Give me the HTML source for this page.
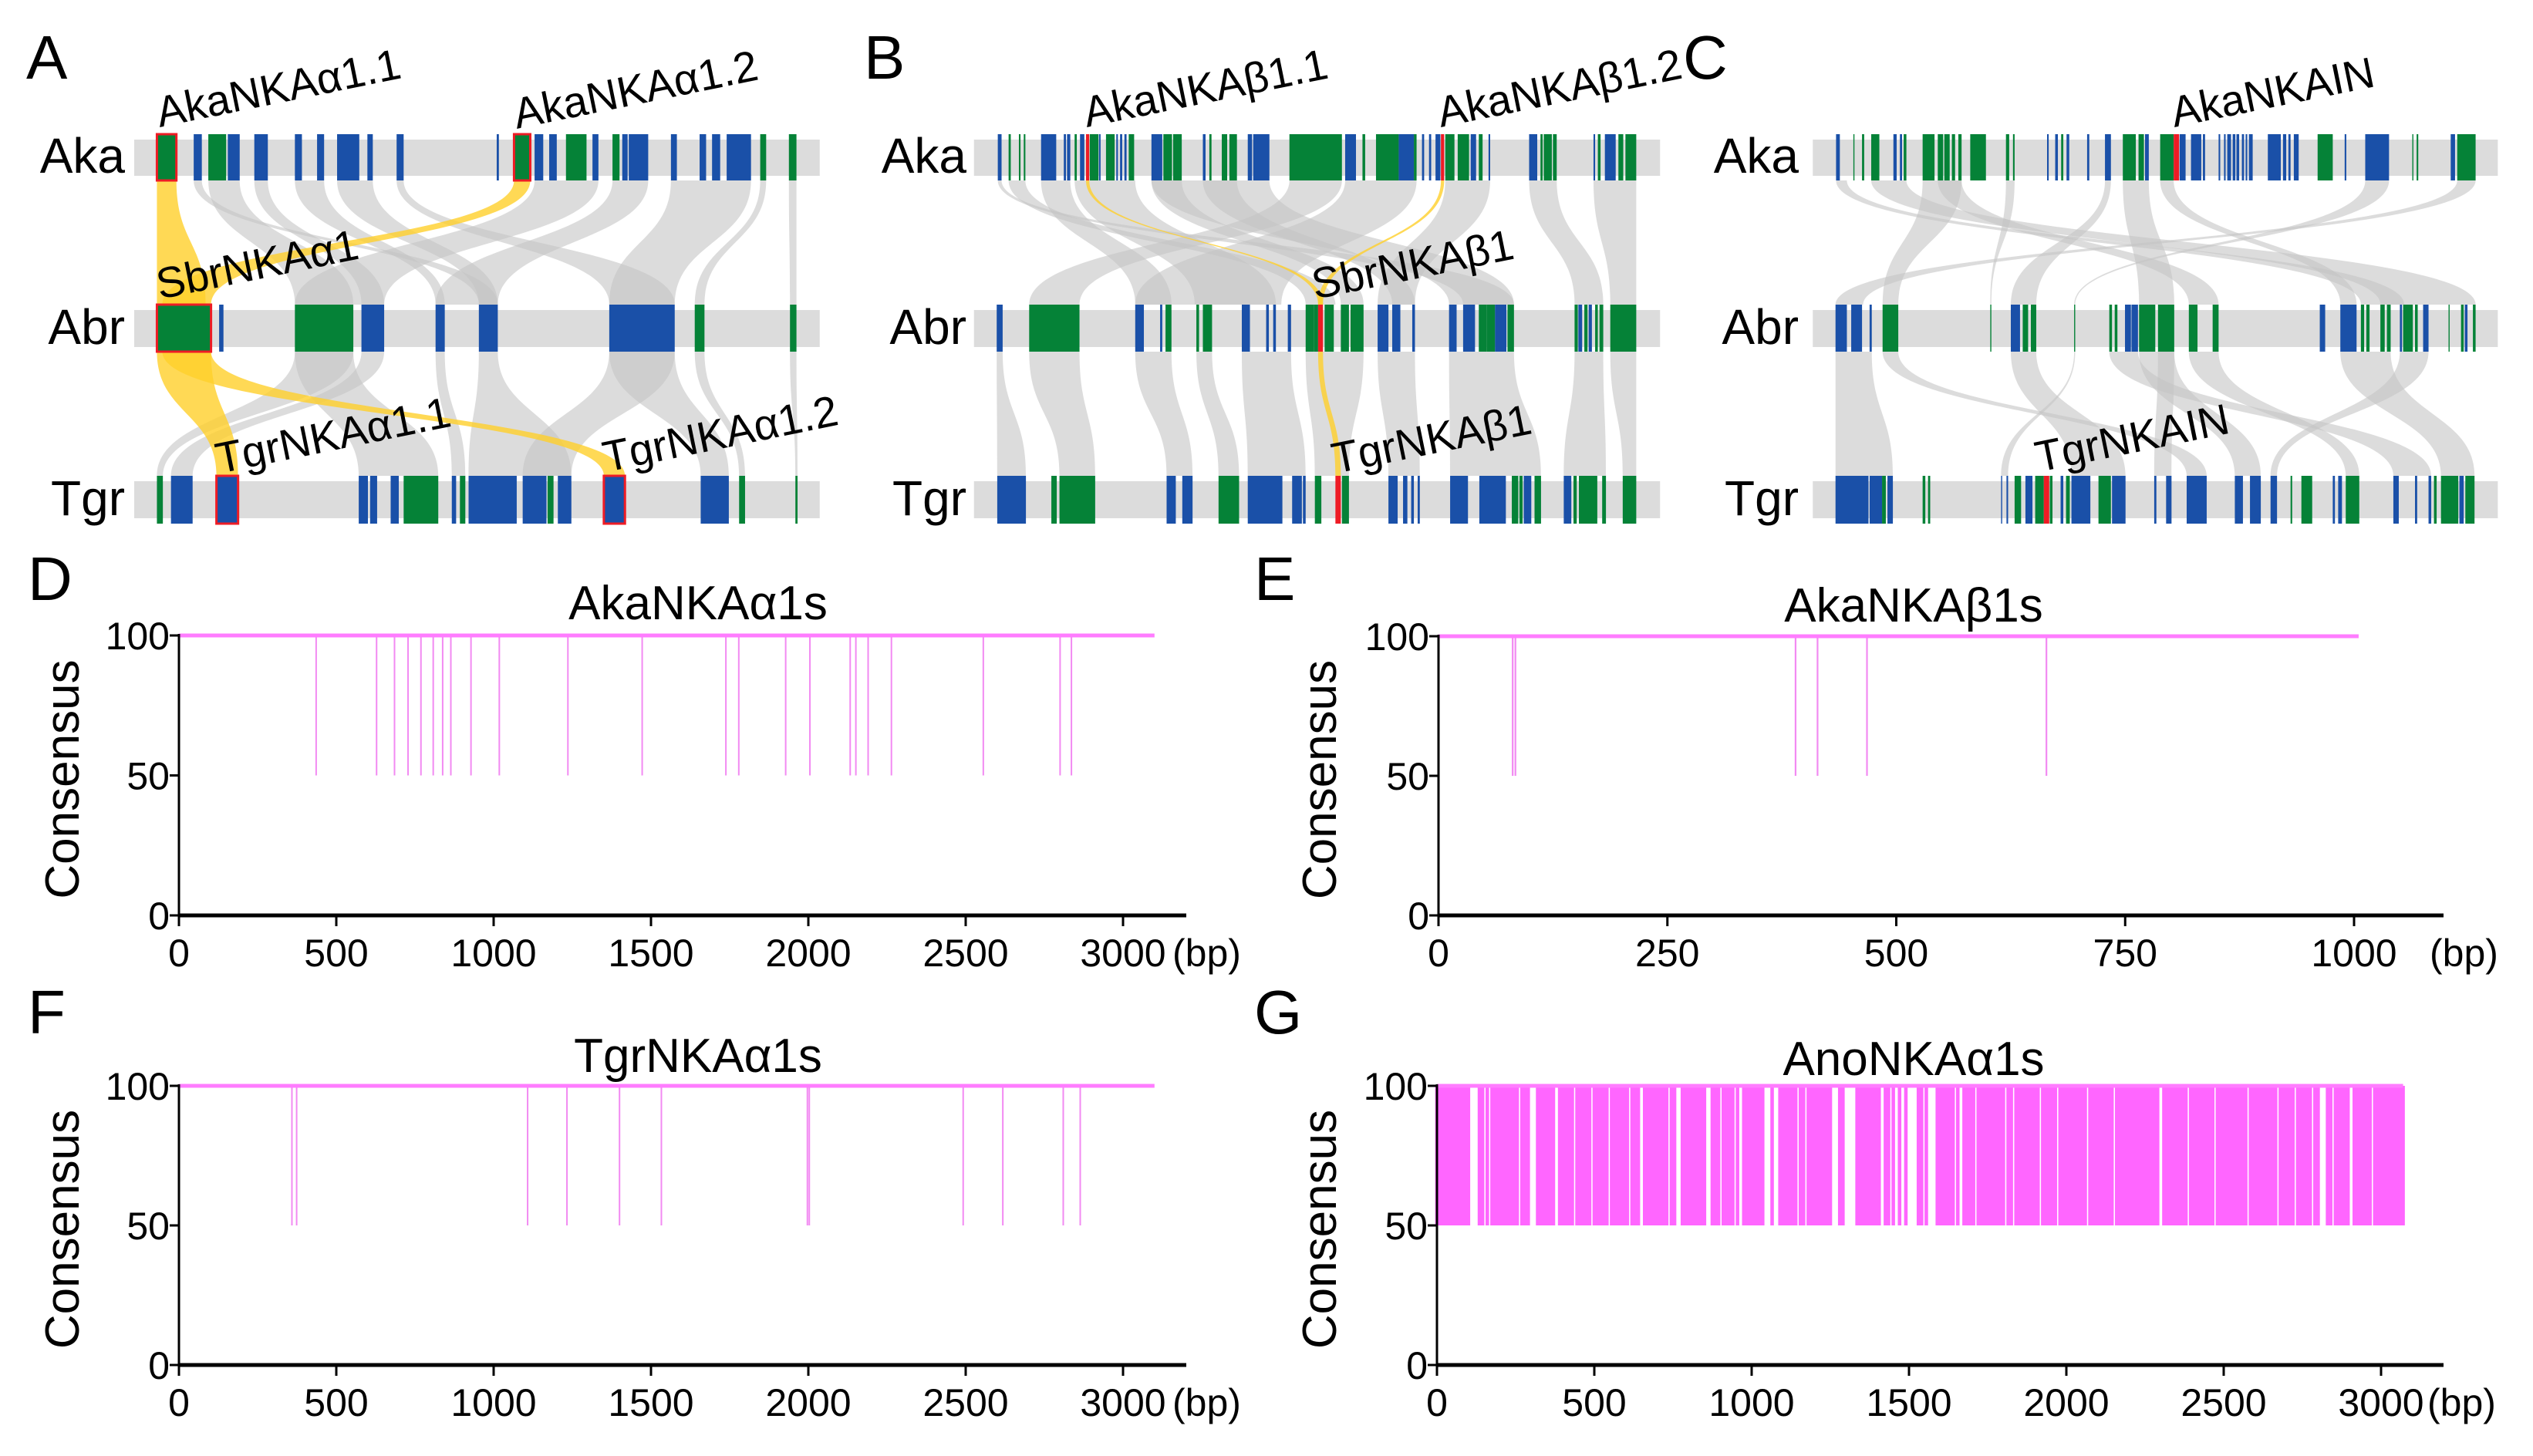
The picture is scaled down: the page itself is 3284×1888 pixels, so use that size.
<!DOCTYPE html>
<html><head><meta charset="utf-8"><style>
html,body{margin:0;padding:0;background:#fff}
svg{display:block}
text{font-family:"Liberation Sans",sans-serif;fill:#000}
</style></head><body>
<svg id="fig" width="3284" height="1888" viewBox="0 0 3284 1888" xmlns="http://www.w3.org/2000/svg"></svg>
<script>
// ---------- consensus chart data ----------
const dDips = [436,628,685,728,769,808,838,864,928,1018,1236,1472,1738,1779,1928,2005,2133,2151,2190,2264,2556,2800,2836];
const eDips = [81,84,390,414,468,664];
const fDips = [359,374,1108,1233,1400,1533,1997,2003,2492,2618,2810,2864];
const gDips = [0,10,20,30,40,50,60,70,80,90,100,135,145,160,175,185,195,205,215,225,235,245,255,270,280,290,320,330,340,350,360,370,390,400,410,420,430,445,455,465,475,485,500,510,520,530,540,555,565,575,585,595,605,620,630,640,660,670,680,690,700,710,720,730,745,755,780,790,800,810,820,830,840,850,875,885,895,910,920,930,940,955,975,985,995,1005,1015,1025,1035,1065,1090,1100,1110,1120,1130,1140,1155,1165,1180,1190,1200,1210,1220,1230,1240,1250,1280,1290,1335,1345,1355,1365,1375,1385,1395,1405,1425,1435,1450,1470,1490,1530,1540,1555,1590,1600,1610,1620,1630,1640,1655,1675,1685,1695,1705,1720,1730,1740,1750,1760,1770,1780,1790,1800,1815,1825,1840,1850,1860,1870,1880,1890,1900,1910,1925,1935,1945,1955,1965,1980,1990,2000,2010,2020,2030,2040,2050,2060,2075,2085,2095,2105,2115,2125,2135,2145,2160,2170,2180,2190,2200,2210,2220,2230,2240,2250,2260,2270,2280,2290,2310,2320,2330,2340,2350,2360,2370,2380,2395,2405,2415,2425,2435,2445,2455,2465,2480,2490,2500,2510,2520,2530,2540,2550,2560,2570,2585,2595,2605,2615,2625,2635,2645,2655,2665,2680,2690,2700,2710,2720,2735,2745,2755,2765,2775,2790,2800,2830,2840,2855,2865,2875,2885,2895,2915,2925,2935,2945,2955,2965,2980,2990,3000,3010,3020,3030,3040,3050,3060,3070];
const dipLevel = 50;
const fullLevel = 100;
const yTicks = [0,50,100];
const xTicksLong = [0,500,1000,1500,2000,2500,3000];
const xTicksShort = [0,250,500,750,1000];
const lenD = 3100, lenE = 1005, lenF = 3100, lenG = 3070;

// ---------- synteny data (block extents in zoom units) ----------
const aAka = [["r",290,326],["b",358,373],["g",385,418],["b",421,443],["b",470,495],["b",545,558],["b",586,599],["b",623,664],["b",679,689],["b",733,746],["b",918,922],["r",950,980],["b",988,1004],["b",1015,1029],["g",1046,1084],["b",1095,1106],["g",1132,1145],["b",1150,1160],["b",1162,1198],["b",1240,1251],["b",1293,1305],["b",1316,1331],["b",1343,1388],["g",1405,1416],["g",1458,1472]];
const aAbr = [["r",290,390],["b",405,413],["g",545,653],["b",668,710],["b",805,822],["b",885,920],["b",1126,1247],["g",1284,1302],["g",1460,1472]];
const aTgr = [["g",290,301],["b",316,356],["rb",400,440],["b",663,680],["b",684,697],["b",722,737],["g",746,810],["b",835,843],["g",850,860],["b",866,955],["b",966,1010],["g",1012,1023],["b",1031,1056],["rb",1116,1155],["b",1295,1347],["g",1366,1377],["g",1470,1474]];
const aLinks1 = [[385,443,545,653],[470,495,668,710],[545,599,805,822],[623,689,885,920],[733,746,1126,1247],[988,1106,545,710],[1132,1198,805,920],[1240,1388,1126,1247],[1405,1416,1284,1302],[1458,1472,1460,1472],[358,373,885,920]];
const aLinks2 = [[545,653,663,810],[668,710,316,356],[805,822,835,860],[885,920,866,1056],[1126,1247,1295,1347],[1284,1302,1366,1377],[1126,1247,966,1056],[545,653,290,301],[1460,1472,1470,1474]];
const aGold1 = [[290,326,290,380],[950,980,300,390]];
const aGold2 = [[290,390,400,440],[300,390,1116,1155]];

const bAka = [["b",276,283],["g",296,300],["g",315,318],["g",324,327],["b",356,384],["b",398,402],["b",404,410],["g",418,422],["b",428,436],["R",439,445],["g",446,462],["b",463,466],["g",476,492],["b",495,498],["b",502,506],["b",510,514],["g",518,528],["b",560,580],["g",582,598],["g",600,616],["b",655,660],["g",667,671],["g",690,700],["g",704,718],["b",738,746],["b",748,778],["g",815,912],["b",918,938],["g",950,955],["g",975,1017],["b",1017,1045],["g",1045,1050],["b",1060,1064],["b",1073,1077],["b",1085,1094],["R",1095,1101],["g",1103,1120],["g",1126,1147],["b",1150,1160],["g",1165,1172],["b",1183,1186],["b",1258,1273],["g",1279,1283],["g",1285,1300],["g",1302,1309],["b",1377,1380],["g",1385,1390],["b",1398,1418],["g",1423,1432],["g",1436,1456]];
const bAbr = [["b",274,285],["g",334,427],["b",530,546],["b",576,580],["g",586,597],["g",643,648],["g",655,672],["b",727,742],["b",772,777],["b",785,790],["b",812,818],["g",845,860],["g",860,868],["R",868,877],["g",880,897],["g",910,925],["g",928,952],["b",978,998],["b",1005,1020],["b",1042,1047],["b",1110,1124],["b",1136,1158],["g",1165,1180],["g",1180,1195],["b",1195,1216],["g",1218,1230],["g",1342,1348],["b",1349,1356],["g",1360,1366],["b",1368,1374],["g",1380,1385],["g",1388,1395],["g",1408,1456]];
const bTgr = [["b",275,328],["g",375,385],["g",390,456],["b",588,605],["b",617,636],["g",684,722],["b",738,802],["b",820,838],["b",840,845],["g",862,874],["R",900,910],["g",912,925],["b",998,1015],["b",1025,1033],["b",1040,1045],["b",1052,1056],["b",1112,1145],["b",1166,1215],["g",1226,1238],["g",1240,1246],["b",1248,1262],["g",1268,1280],["b",1322,1336],["g",1340,1346],["g",1350,1384],["g",1393,1400],["g",1431,1456]];
const bLinks1 = [[356,410,530,597],[418,530,640,790],[815,912,334,427],[918,1050,530,800],[1103,1186,978,1047],[1258,1309,1342,1395],[1377,1456,1408,1456],[276,283,1136,1230],[560,778,1110,1230],[560,616,910,952],[296,327,845,900],[655,718,1005,1047]];
const bLinks2 = [[274,285,275,328],[334,427,390,456],[530,597,588,636],[643,672,684,722],[727,818,738,845],[845,952,862,925],[978,1047,998,1056],[1110,1230,1112,1280],[1342,1395,1322,1400],[1408,1456,1431,1456]];
const bGold1 = [[439,445,868,877],[1095,1101,868,877]];
const bGold2 = [[868,877,900,910]];

const cAka = [["b",280,287],["g",312,314],["g",328,332],["g",345,360],["b",386,392],["b",398,402],["g",405,410],["g",440,462],["g",468,478],["g",480,490],["g",494,500],["g",506,512],["g",528,557],["g",594,600],["g",607,610],["b",670,673],["b",685,690],["g",696,700],["b",706,711],["b",744,748],["b",777,788],["g",810,834],["g",839,849],["b",851,858],["g",879,904],["R",904,914],["b",915,926],["b",936,955],["b",958,962],["b",987,990],["b",997,1000],["b",1003,1010],["b",1013,1018],["b",1020,1025],["b",1030,1034],["b",1037,1040],["b",1043,1050],["b",1078,1102],["b",1106,1112],["b",1116,1120],["b",1126,1135],["g",1170,1198],["b",1220,1223],["b",1258,1302],["g",1345,1347],["g",1353,1356],["b",1416,1424],["g",1428,1462]];
const cAbr = [["b",279,300],["b",308,328],["b",342,346],["g",366,395],["g",565,567],["b",603,620],["g",625,635],["g",640,650],["g",720,722],["g",785,790],["g",795,800],["b",814,825],["b",826,838],["g",840,870],["g",875,905],["g",932,948],["g",976,987],["b",1174,1184],["b",1212,1242],["g",1250,1256],["g",1260,1266],["g",1286,1294],["g",1298,1305],["b",1322,1326],["g",1328,1346],["g",1350,1355],["b",1365,1375],["g",1412,1414],["g",1435,1440],["b",1442,1447],["g",1457,1462]];
const cTgr = [["b",279,340],["b",342,365],["g",365,372],["b",375,385],["g",440,445],["g",450,454],["b",585,587],["b",595,598],["g",610,622],["b",630,643],["g",648,664],["R",664,674],["g",675,680],["b",695,700],["g",705,712],["b",715,750],["g",765,788],["b",790,815],["b",868,872],["b",890,900],["b",928,965],["b",1017,1032],["b",1045,1065],["b",1083,1095],["g",1120,1123],["g",1140,1160],["b",1198,1202],["b",1208,1215],["g",1222,1247],["b",1310,1320],["b",1350,1354],["b",1375,1380],["g",1385,1390],["g",1398,1430],["b",1432,1440],["g",1443,1460]];
const cLinks1 = [[1428,1462,279,330],[440,512,366,395],[594,610,565,567],[777,788,603,650],[810,858,840,905],[345,410,1286,1462],[280,300,1250,1330],[1258,1302,720,722],[468,512,932,987],[879,904,1212,1242]];
const cLinks2 = [[279,346,279,385],[366,395,928,965],[603,650,715,815],[840,905,1017,1065],[932,987,1222,1247],[1212,1305,1398,1460],[1322,1375,1083,1095],[720,722,585,598],[785,838,1310,1380],[875,905,868,900]];

const NS = "http://www.w3.org/2000/svg";
const svg = document.getElementById("fig");
function mk(tag, attrs, parent) {
  const e = document.createElementNS(NS, tag);
  for (const k in attrs) e.setAttribute(k, attrs[k]);
  (parent || svg).appendChild(e);
  return e;
}
function txt(str, attrs, parent) { const t = mk("text", attrs, parent); t.textContent = str; return t; }

const COL = {b:"#1a50a8", g:"#058237", r:"#058237", rb:"#1a50a8", R:"#ee1c25"};
const rowY = {aka:[181,228,174,234], abr:[402,450,395,456], tgr:[624,672,617,679]};
function ribbon(g, x1, x2, y1, x3, x4, y2, fill, op) {
  const ym = (y1 + y2) / 2;
  const p = mk("path", {d:`M${x1} ${y1}L${x2} ${y1}C${x2} ${ym} ${x4} ${ym} ${x4} ${y2}L${x3} ${y2}C${x3} ${ym} ${x1} ${ym} ${x1} ${y1}Z`, fill:fill, "fill-opacity":op}, g);
  return p;
}

function synteny(id, off, letter, letterX, bandX1, bandX2, labelEnd, rows, links1, links2, gold1, gold2, labels) {
  const sx = z => off + z * 0.7015;
  const g = mk("g", {});
  
  
  const L = txt(letter, {x:letterX, y:102, "font-size":80}, g);
  
  
  const names = ["aka","abr","tgr"], labelsTxt = ["Aka","Abr","Tgr"];
  names.forEach((n, i) => {
    const r = rowY[n];
    const band = mk("rect", {x:sx(bandX1), y:r[0], width:sx(bandX2)-sx(bandX1), height:r[1]-r[0], fill:"#dcdcdc"}, g);
    
    
    const t = txt(labelsTxt[i], {x:labelEnd, y:r[1]-4, "font-size":64, "text-anchor":"end"}, g);
    
    
  });
  const lg = mk("g", {}, g);
  links1.forEach(l => {
    const p = ribbon(lg, sx(l[0]), sx(l[1]), 234, sx(l[2]), sx(l[3]), 395, "#c4c4c4", 0.6);
    
    
  });
  links2.forEach(l => {
    const p = ribbon(lg, sx(l[0]), sx(l[1]), 456, sx(l[2]), sx(l[3]), 617, "#c4c4c4", 0.6);
    
    
  });
  gold1.forEach(l => {
    const p = ribbon(lg, sx(l[0]), sx(l[1]), 234, sx(l[2]), sx(l[3]), 395, "#ffd02a", 0.8);
    
    
  });
  gold2.forEach(l => {
    const p = ribbon(lg, sx(l[0]), sx(l[1]), 456, sx(l[2]), sx(l[3]), 617, "#ffd02a", 0.8);
    
    
  });
  names.forEach((n, i) => {
    const r = rowY[n];
    rows[i].forEach(b => {
      const red = (b[0] === "r" || b[0] === "rb");
      const rc = mk("rect", {x:sx(b[1]), y:r[2], width:Math.max(1.2, sx(b[2])-sx(b[1])), height:r[3]-r[2], fill:COL[b[0]]}, g);
      if (red) { rc.setAttribute("stroke", "#ee1c25"); rc.setAttribute("stroke-width", "3"); }
      
      
    });
  });
  labels.forEach(l => {
    const t = txt(l[0], {x:l[1], y:l[2], "font-size":56, transform:`rotate(-11.5 ${l[1]} ${l[2]})`}, g);
    
    
  });
}

synteny("a", 0, "A", 34, 248, 1515, 162, [aAka, aAbr, aTgr], aLinks1, aLinks2, aGold1, aGold2,
  [["AkaNKAα1.1",207,165],["AkaNKAα1.2",670,167],["SbrNKAα1",207,388],["TgrNKAα1.1",284,614],["TgrNKAα1.2",786,612]]);
synteny("b", 1100, "B", 1120, 232, 1500, 1253, [bAka, bAbr, bTgr], bLinks1, bLinks2, bGold1, bGold2,
  [["AkaNKAβ1.1",1409,165],["AkaNKAβ1.2",1868,165],["SbrNKAβ1",1705,388],["TgrNKAβ1",1731,614]]);
synteny("c", 2184, "C", 2182, 237, 1503, 2332, [cAka, cAbr, cTgr], cLinks1, cLinks2, [], [],
  [["AkaNKAIN",2819,165],["TgrNKAIN",2643,612]]);

// ---------- consensus charts ----------
function chart(id, letter, lx, ly, x0, pxPerBp, axisEnd, y100, y0, title, titleX, titleY, dips, len, ticks, bpX, ylabX, sw, col) {
  const g = mk("g", {});
  
  
  const X = v => x0 + v * pxPerBp;
  const Y = v => y0 + (y100 - y0) * v / 100;
  const L = txt(letter, {x:lx, y:ly, "font-size":80}, g);
  
  
  const T = txt(title, {x:titleX, y:titleY, "font-size":62, "text-anchor":"middle"}, g);
  
  
  const yl = txt("Consensus", {x:ylabX, y:(Y(100)+Y(0))/2 + 5, "font-size":62, "text-anchor":"middle", transform:`rotate(-90 ${ylabX} ${(Y(100)+Y(0))/2 + 5})`}, g);
  
  
  dips.forEach(d => {
    const ln = mk("line", {x1:X(d), x2:X(d), y1:Y(fullLevel), y2:Y(dipLevel), stroke:col, "stroke-width":sw}, g);
    
    
  });
  const top = mk("line", {x1:X(0), x2:X(len), y1:Y(fullLevel), y2:Y(fullLevel), stroke:"#ff7cff", "stroke-width":5}, g);
  
  
  const ya = mk("line", {x1:X(0), x2:X(0), y1:Y(100)-2, y2:Y(0)+14, stroke:"#000", "stroke-width":3}, g);
  
  
  const xa = mk("line", {x1:X(0), x2:axisEnd, y1:Y(0), y2:Y(0), stroke:"#000", "stroke-width":5}, g);
  
  
  yTicks.forEach(v => {
    const tk = mk("line", {x1:X(0)-12, x2:X(0), y1:Y(v), y2:Y(v), stroke:"#000", "stroke-width":3}, g);
    
    
    const tl = txt(String(v), {x:X(0)-12, y:Y(v)+18, "font-size":50, "text-anchor":"end"}, g);
    
    
  });
  ticks.forEach(v => {
    const tk = mk("line", {x1:X(v), x2:X(v), y1:Y(0), y2:Y(0)+14, stroke:"#000", "stroke-width":3}, g);
    
    
    const tl = txt(String(v), {x:X(v), y:Y(0)+66, "font-size":50, "text-anchor":"middle"}, g);
    
    
  });
  const bp = txt("(bp)", {x:bpX, y:Y(0)+66, "font-size":50}, g);
  
  
}

chart("d", "D", 36, 778, 232, 0.408, 1538, 824, 1187, "AkaNKAα1s", 905, 803, dDips, lenD, xTicksLong, 1520, 102, 2, "#f28af2");
chart("e", "E", 1626, 778, 1865, 1.187, 3168, 825, 1187, "AkaNKAβ1s", 2481, 806, eDips, lenE, xTicksShort, 3150, 1732, 2.2, "#f28af2");
chart("f", "F", 36, 1340, 232, 0.408, 1538, 1408, 1770, "TgrNKAα1s", 905, 1390, fDips, lenF, xTicksLong, 1520, 102, 2, "#f28af2");
chart("g", "G", 1626, 1340, 1863, 0.408, 3168, 1408, 1770, "AnoNKAα1s", 2481, 1394, gDips, lenG, xTicksLong, 3147, 1732, 4.6, "#ff66ff");
</script>
</body></html>
